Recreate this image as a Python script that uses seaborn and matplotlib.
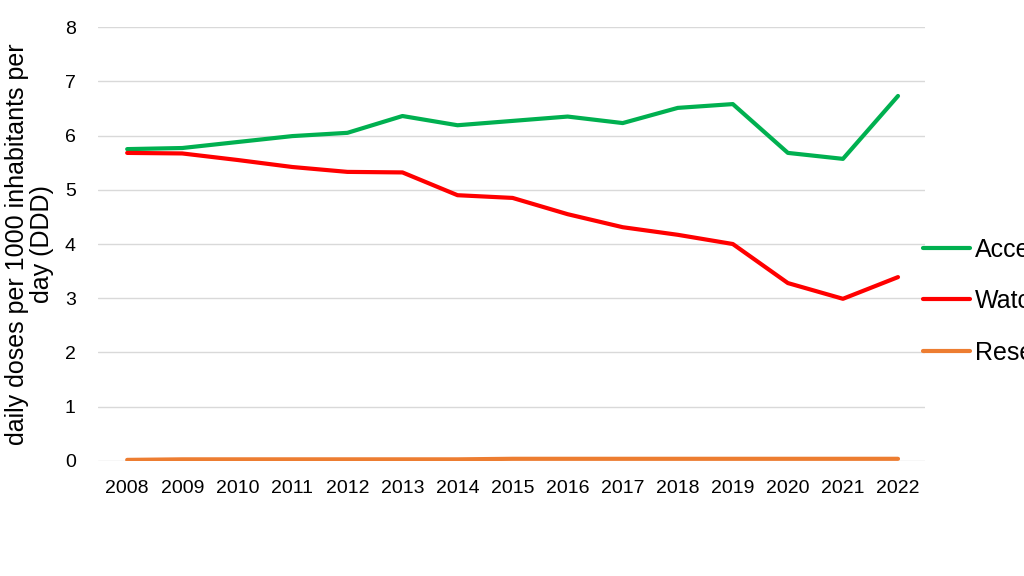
import numpy as np
import pandas as pd
import matplotlib
matplotlib.use('Agg')
import matplotlib.pyplot as plt
import seaborn as sns

years = list(range(2008, 2023))
access = [5.75, 5.77, 5.88, 5.99, 6.05, 6.36, 6.19, 6.27, 6.35, 6.23, 6.51, 6.58, 5.68, 5.57, 6.73]
watch = [5.68, 5.67, 5.55, 5.42, 5.33, 5.32, 4.90, 4.85, 4.55, 4.31, 4.17, 4.00, 3.28, 2.99, 3.39]
reserve = [0.02, 0.03, 0.03, 0.03, 0.03, 0.03, 0.03, 0.04, 0.04, 0.04, 0.04, 0.04, 0.04, 0.04, 0.04]
groups = ['Access', 'Watch', 'Reserve']
colors = ['#00B050', '#FF0000', '#ED7D31']

df = pd.DataFrame({'year': years * 3,
                   'value': access + watch + reserve,
                   'group': [g for g in groups for _ in years]})

sns.set_style('white')
plt.rcParams['font.family'] = ['Liberation Sans', 'DejaVu Sans']
plt.rcParams['text.color'] = '#000000'

fig = plt.figure(figsize=(10.24, 5.76), dpi=100)
ax = fig.add_axes([0.0957, 0.1997, 0.8076, 0.7533])
sns.lineplot(data=df, x='year', y='value', hue='group', palette=colors,
             linewidth=3, ax=ax, legend=True)

ax.set_xlim(2007.47, 2022.49)
ax.set_ylim(0, 8)
ax.set_xticks(years)
ax.set_xticklabels([str(y) for y in years])
ax.set_yticks(range(0, 9))
ax.tick_params(axis='both', labelsize=14, length=0, colors='#000000')
ax.tick_params(axis='y', pad=16)
ax.tick_params(axis='x', pad=14)
ax.yaxis.grid(True, color='#D9D9D9', linewidth=1)
ax.set_axisbelow(True)
for s in ax.spines.values():
    s.set_visible(False)
ax.set_xlabel('')
ax.set_ylabel('daily doses per 1000 inhabitants per\nday (DDD)', fontsize=18,
              labelpad=8, color='#000000', linespacing=1.05)

ax.legend(title=None, frameon=False, loc='center left', bbox_to_anchor=(0.879, 0.477),
          bbox_transform=fig.transFigure, fontsize=18, handlelength=1.9,
          labelspacing=1.1, handletextpad=0.2)

fig.savefig('out.png', dpi=100)
